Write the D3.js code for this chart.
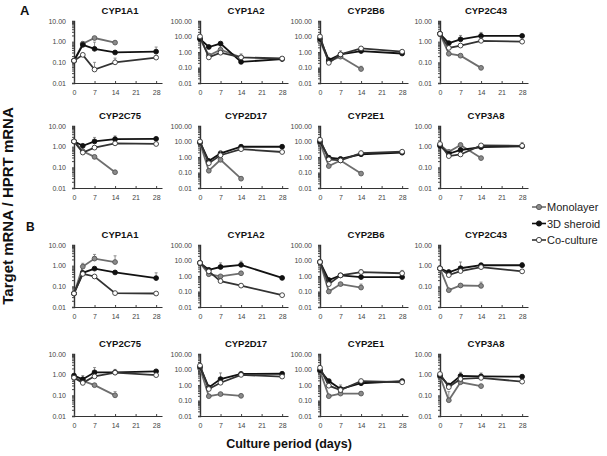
<!DOCTYPE html>
<html>
<head>
<meta charset="utf-8">
<script src="https://cdn.jsdelivr.net/npm/d3@7"></script>
<style>
  body { margin: 0; background: #fff; }
  svg { font-family: "Liberation Sans", Arial, sans-serif; }
</style>
</head>
<body>
<div id="chart"></div>
<script>
// ---- data ----
const days = [0, 3, 7, 14, 28];
const monoDays = [0, 3, 7, 14];
const xTicks = [0, 7, 14, 21, 28];
const genes = ["CYP1A1", "CYP1A2", "CYP2B6", "CYP2C43", "CYP2C75", "CYP2D17", "CYP2E1", "CYP3A8"];
const yTopTick = [10, 100, 100, 10, 10, 100, 100, 10];
const seriesNames = ["Monolayer", "3D sheroid", "Co-culture"];

// section A
const monolayerA = [
  [0.12, 0.8, 1.5, 0.9],
  [7, 0.6, 1.4, 0.45],
  [5, 0.25, 0.5, 0.08],
  [2.4, 0.26, 0.21, 0.054],
  [1.8, 0.6, 0.32, 0.058],
  [8, 0.13, 0.66, 0.04],
  [8, 0.26, 0.6, 0.085],
  [1.2, 0.56, 1.2, 0.28]
];
const spheroidA = [
  [0.12, 0.7, 0.45, 0.3, 0.33],
  [7, 2.1, 3.5, 0.23, 0.35],
  [7, 0.3, 0.7, 1.15, 0.8],
  [2.4, 0.85, 1.3, 1.9, 1.9],
  [1.8, 1.1, 1.8, 2.3, 2.4],
  [9, 0.55, 1.7, 4.6, 4.6],
  [10, 0.9, 0.75, 1.5, 1.9],
  [1.1, 0.45, 0.69, 0.95, 1.05]
];
const cocultureA = [
  [0.12, 0.23, 0.045, 0.1, 0.17],
  [10, 0.45, 0.9, 0.45, 0.38],
  [10, 0.2, 0.7, 1.7, 1.05],
  [2.4, 0.5, 0.65, 1.1, 1.0],
  [1.8, 0.52, 0.9, 1.45, 1.35],
  [10, 0.4, 1.3, 3.2, 2.1],
  [13, 0.7, 0.6, 1.8, 2.2],
  [1.35, 0.35, 0.42, 1.15, 1.1]
];
// upper ends of the error bars (null = none visible)
const monolayerErrA = [
  [null, null, null, null],
  [null, null, 2.5, null],
  [null, null, null, 0.12],
  [null, null, null, null],
  [null, null, null, null],
  [null, null, null, null],
  [null, null, null, null],
  [null, null, 1.5, null]
];
const spheroidErrA = [
  [null, null, 0.95, null, 0.55],
  [null, null, null, null, null],
  [null, null, 1.2, null, null],
  [null, null, 2.0, 2.8, null],
  [null, null, 2.8, 3.3, null],
  [null, null, null, 5.5, null],
  [null, null, null, null, null],
  [null, null, null, null, null]
];
const cocultureErrA = [
  [null, null, 0.1, 0.16, null],
  [null, null, null, 0.75, 0.5],
  [null, null, null, 2.2, null],
  [null, null, null, 1.5, null],
  [null, null, null, null, null],
  [null, null, 2.5, null, null],
  [null, null, null, null, null],
  [null, null, null, null, 1.6]
];

// section B
const monolayerB = [
  [0.045, 0.9, 2.2, 1.5],
  [7, 1.3, 0.95, 1.5],
  [8, 0.1, 0.3, 0.18],
  [0.74, 0.065, 0.11, 0.105],
  [0.7, 0.5, 0.31, 0.1],
  [12, 0.19, 0.26, 0.2],
  [8, 0.19, 0.28, 0.28],
  [0.8, 0.058, 0.43, 0.28]
];
const spheroidB = [
  [0.045, 0.45, 0.72, 0.47, 0.25],
  [7, 2.5, 3.8, 5.2, 0.75],
  [8, 0.55, 1.1, 0.85, 0.85],
  [0.74, 0.48, 0.75, 1.05, 1.05],
  [0.9, 0.6, 1.3, 1.3, 1.45],
  [15, 0.7, 2.4, 5.2, 5.3],
  [9, 1.8, 0.55, 1.3, 1.8],
  [0.9, 0.3, 0.87, 0.83, 0.8]
];
const cocultureB = [
  [0.045, 0.4, 0.3, 0.047, 0.045],
  [7, 2.0, 0.47, 0.24, 0.058],
  [8, 0.3, 1.1, 1.8, 1.5],
  [0.74, 0.35, 0.55, 0.85, 0.53],
  [0.72, 0.4, 0.83, 1.25, 0.95],
  [18, 0.55, 1.4, 4.5, 3.5],
  [13, 0.9, 0.47, 1.8, 1.5],
  [1.08, 0.25, 0.62, 0.7, 0.46]
];
const monolayerErrB = [
  [null, 1.3, 3.5, 3.0],
  [null, 2.5, null, null],
  [null, null, null, 0.3],
  [null, null, null, 0.16],
  [null, null, null, 0.15],
  [null, null, null, 0.25],
  [null, null, null, 0.35],
  [null, 0.15, null, null]
];
const spheroidErrB = [
  [null, null, null, null, 0.45],
  [null, null, 7, 9, null],
  [null, null, null, null, null],
  [null, 0.65, 1.5, 1.3, 1.4],
  [null, 0.9, 2.2, 1.8, null],
  [null, null, 6, null, null],
  [null, null, 1.0, null, null],
  [null, null, 1.3, 1.2, null]
];
const cocultureErrB = [
  [null, null, null, null, null],
  [null, null, null, null, null],
  [null, null, null, 2.5, 2.3],
  [null, null, null, null, null],
  [null, null, null, null, null],
  [null, null, null, null, null],
  [null, null, null, null, null],
  [null, null, null, null, null]
];

// ---- layout ----
const width = 607, height = 456;
const colX = [74, 200, 320, 440];
const rowTop = [21, 126, 245, 354];
const plotW = 88;   // 0..30 days
const plotH = 62;

const styles = [
  { line: "#6e6e6e", fill: "#8a8a8a", stroke: "#555" },
  { line: "#111", fill: "#111", stroke: "#111" },
  { line: "#333", fill: "#fff", stroke: "#333" }
];

const svg = d3.select("#chart").append("svg")
  .attr("width", width)
  .attr("height", height)
  .attr("viewBox", [0, 0, width, height]);

function drawPanel(px, py, gi, series, errs) {
  const g = svg.append("g").attr("transform", `translate(${px},${py})`);
  const top = yTopTick[gi];
  const x = d3.scaleLinear().domain([0, 30]).range([0, plotW]);
  const y = d3.scaleLog().domain([0.01, top]).range([plotH, 0]);

  // minor log ticks
  const minor = [];
  for (let dec = 0.01; dec < top; dec *= 10) {
    for (let k = 1; k < 10; k++) minor.push(+(dec * k).toPrecision(3));
  }
  minor.push(top);
  const majors = minor.filter(v => Math.abs(Math.log10(v) - Math.round(Math.log10(v))) < 1e-6);

  g.append("g")
    .call(d3.axisLeft(y).tickValues(minor).tickSize(2).tickFormat(""))
    .call(a => a.select(".domain").attr("stroke", "#333").attr("stroke-width", 1.4))
    .call(a => a.selectAll(".tick line").attr("stroke", "#444"));

  g.append("g")
    .call(d3.axisLeft(y).tickValues(majors).tickSize(0).tickPadding(8).tickFormat(d3.format(".2f")))
    .call(a => a.select(".domain").remove())
    .call(a => a.selectAll("text").attr("fill", "#444").style("font-size", "7px"));

  g.append("g")
    .attr("transform", `translate(0,${plotH})`)
    .call(d3.axisBottom(x).tickValues(xTicks).tickSizeInner(-2).tickSizeOuter(0).tickPadding(7))
    .call(a => a.select(".domain").attr("stroke", "#333").attr("stroke-width", 1.2))
    .call(a => a.selectAll(".tick line").attr("stroke", "#444"))
    .call(a => a.selectAll("text").attr("fill", "#444").style("font-size", "7px"));

  g.append("text")
    .attr("x", plotW / 2 + 2)
    .attr("y", -7)
    .attr("text-anchor", "middle")
    .attr("font-weight", "bold")
    .style("font-size", "9.5px")
    .attr("fill", "#111")
    .text(genes[gi]);

  const line = d3.line().x(d => x(d[0])).y(d => y(d[1]));

  series.forEach((vals, si) => {
    const dd = si === 0 ? monoDays : days;
    const pts = vals.map((v, i) => [dd[i], v, errs[si][i]]);
    const st = styles[si];
    g.append("g").selectAll("g").data(pts.filter(p => p[2] != null)).join("g")
      .call(e => e.append("line")
        .attr("x1", p => x(p[0])).attr("x2", p => x(p[0]))
        .attr("y1", p => y(p[1])).attr("y2", p => y(p[2])))
      .call(e => e.append("line")
        .attr("x1", p => x(p[0]) - 1.5).attr("x2", p => x(p[0]) + 1.5)
        .attr("y1", p => y(p[2])).attr("y2", p => y(p[2])))
      .selectAll("line").attr("stroke", "#777").attr("stroke-width", 0.8);
    g.append("path").datum(pts)
      .attr("fill", "none")
      .attr("stroke", st.line)
      .attr("stroke-width", 1.8)
      .attr("d", line);
    g.append("g").selectAll("circle").data(pts).join("circle")
      .attr("cx", p => x(p[0]))
      .attr("cy", p => y(p[1]))
      .attr("r", 2.4)
      .attr("fill", st.fill)
      .attr("stroke", st.stroke)
      .attr("stroke-width", 0.9);
  });
}

genes.forEach((gname, gi) => {
  const col = gi % 4, row = Math.floor(gi / 4);
  drawPanel(colX[col], rowTop[row], gi,
    [monolayerA[gi], spheroidA[gi], cocultureA[gi]],
    [monolayerErrA[gi], spheroidErrA[gi], cocultureErrA[gi]]);
  drawPanel(colX[col], rowTop[row + 2], gi,
    [monolayerB[gi], spheroidB[gi], cocultureB[gi]],
    [monolayerErrB[gi], spheroidErrB[gi], cocultureErrB[gi]]);
});

// panel letters
svg.append("text").attr("x", 20).attr("y", 15).attr("font-weight", "bold")
  .style("font-size", "13px").attr("fill", "#111").text("A");
svg.append("text").attr("x", 26).attr("y", 231).attr("font-weight", "bold")
  .style("font-size", "12px").attr("fill", "#111").text("B");

// axis titles
svg.append("text")
  .attr("transform", "translate(13,206) rotate(-90)")
  .attr("text-anchor", "middle")
  .attr("font-weight", "bold")
  .style("font-size", "15px")
  .attr("fill", "#111")
  .text("Target mRNA / HPRT mRNA");

svg.append("text")
  .attr("x", 289).attr("y", 448)
  .attr("text-anchor", "middle")
  .attr("font-weight", "bold")
  .style("font-size", "12.5px")
  .attr("fill", "#111")
  .text("Culture period (days)");

// legend
const legend = svg.append("g").attr("transform", "translate(532,207)");
seriesNames.forEach((name, i) => {
  const st = styles[i];
  const row = legend.append("g").attr("transform", `translate(0,${i * 16.5})`);
  row.append("line").attr("x1", 0).attr("x2", 14).attr("y1", 0).attr("y2", 0)
    .attr("stroke", st.line).attr("stroke-width", 1.6);
  row.append("circle").attr("cx", 7).attr("cy", 0).attr("r", 2.6)
    .attr("fill", st.fill).attr("stroke", st.stroke).attr("stroke-width", 0.9);
  row.append("text").attr("x", 15).attr("y", 4)
    .style("font-size", "11px").attr("fill", "#222").text(name);
});
</script>
</body>
</html>
